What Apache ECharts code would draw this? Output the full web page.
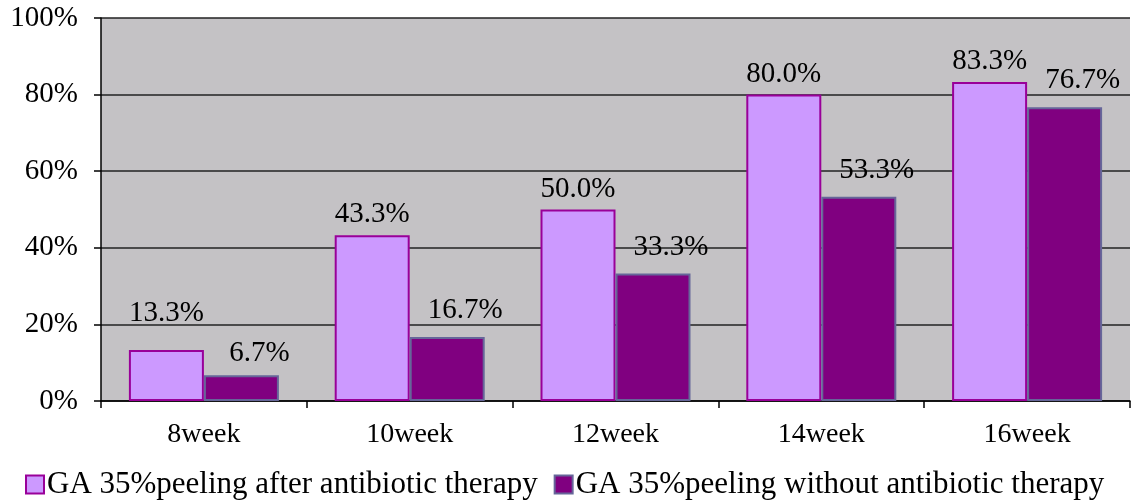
<!DOCTYPE html>
<html>
<head>
<meta charset="utf-8">
<script src="https://cdn.jsdelivr.net/npm/echarts@6/dist/echarts.min.js"></script>
<style>
  html, body { margin: 0; padding: 0; background: #ffffff; }
  #chart { width: 1132px; height: 500px; }
</style>
</head>
<body>
<div id="chart"></div>
<script>
// Weeks of treatment
const weeks = ['8week', '10week', '12week', '14week', '16week'];

// Share of patients (%) per group
const afterAntibiotic = [13.3, 43.3, 50.0, 80.0, 83.3];
const withoutAntibiotic = [6.7, 16.7, 33.3, 53.3, 76.7];

const seriesNames = [
  'GA 35%peeling after antibiotic therapy',
  'GA 35%peeling without antibiotic therapy'
];

// Value axis ticks
const yTicks = [0, 20, 40, 60, 80, 100];

const serif = 'Liberation Serif, Times New Roman, serif';

const chart = echarts.init(document.getElementById('chart'), null, { renderer: 'canvas' });

const labelFmt = p => p.value.toFixed(1) + '%';

chart.setOption({
  animation: false,
  backgroundColor: '#ffffff',
  textStyle: { fontFamily: serif, color: '#000' },
  grid: {
    left: 101, right: 2, top: 18, bottom: 99,
    show: true, backgroundColor: '#c4c2c5', borderWidth: 0
  },
  legend: {
    left: 20, top: 464,
    itemWidth: 18, itemHeight: 18, itemGap: 16,
    icon: 'rect',
    textStyle: { fontFamily: serif, fontSize: 31, color: '#000', padding: [0, 0, 0, -2] },
    data: seriesNames
  },
  xAxis: {
    type: 'category',
    data: weeks,
    boundaryGap: true,
    axisLine: { lineStyle: { color: '#000', width: 1.5 } },
    axisTick: { show: true, length: 7, lineStyle: { color: '#000', width: 1.5 } },
    axisLabel: { fontFamily: serif, fontSize: 28, color: '#000', margin: 20 }
  },
  yAxis: {
    type: 'value',
    min: yTicks[0], max: yTicks[yTicks.length - 1], interval: yTicks[1] - yTicks[0],
    axisLine: { show: true, lineStyle: { color: '#000', width: 1.5 } },
    axisTick: { show: true, length: 7, lineStyle: { color: '#000', width: 1.5 } },
    splitLine: { show: true, lineStyle: { color: '#222', width: 1.6 } },
    axisLabel: { fontFamily: serif, fontSize: 29, color: '#000', margin: 23, formatter: v => v + '%' }
  },
  series: [
    {
      name: seriesNames[0],
      type: 'bar',
      barWidth: 75,
      barGap: '0%',
      data: afterAntibiotic.map((v, i) => i === 0
        ? { value: v, label: { distance: 22 } }
        : { value: v }),
      itemStyle: { color: '#cc99ff', borderColor: '#990099', borderWidth: 2 },
      label: {
        show: true, position: 'top', distance: 6,
        fontFamily: serif, fontSize: 29, color: '#000',
        formatter: labelFmt
      },
      z: 3
    },
    {
      name: seriesNames[1],
      type: 'bar',
      barWidth: 75,
      barGap: '0%',
      data: withoutAntibiotic.map((v, i) => i === 0
        ? { value: v, label: { distance: 7 } }
        : { value: v }),
      itemStyle: { color: '#800080', borderColor: '#666699', borderWidth: 2 },
      label: {
        show: true, position: 'top', distance: 12, offset: [18, 0],
        fontFamily: serif, fontSize: 29, color: '#000',
        formatter: labelFmt
      },
      z: 3
    }
  ]
});
</script>
</body>
</html>
